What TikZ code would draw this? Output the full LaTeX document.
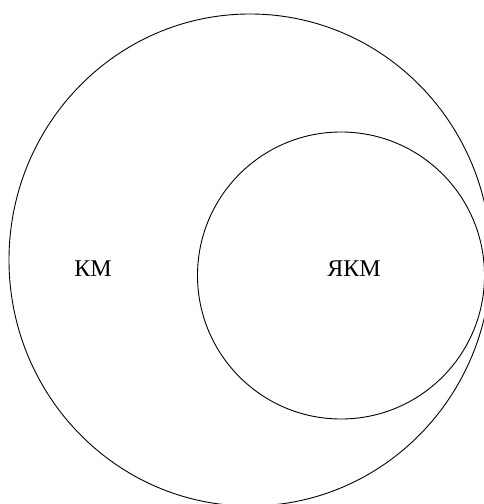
\documentclass[tikz,border=0pt]{standalone}
\usepackage{fontspec}
\setmainfont{Liberation Serif}
\begin{document}
\begin{tikzpicture}[x=1pt,y=1pt,
  ring/.style={draw=black,line width=0.9pt},
  lbl/.style={font=\fontsize{24}{28}\selectfont,inner sep=0pt}]
\useasboundingbox (0,0) rectangle (484,504);
\clip (0,0) rectangle (484,504);
\draw[ring] (250,244) ellipse [x radius=241, y radius=246];
\draw[ring] (341,228.5) circle [radius=143.5];
\node[lbl] (km) at (93,235.5) {КМ};
\node[lbl] (yakm) at (354,235.5) {ЯКМ};
\end{tikzpicture}
\end{document}
